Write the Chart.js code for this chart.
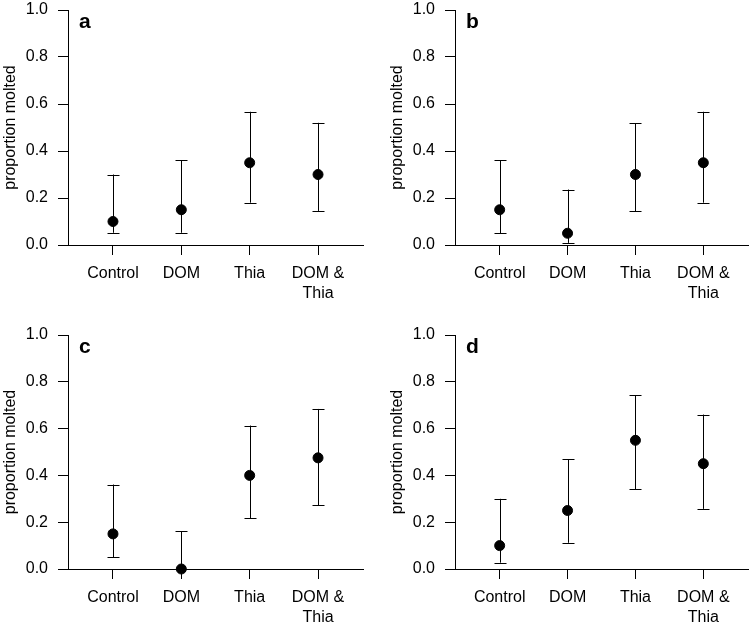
<!DOCTYPE html>
<html>
<head>
<meta charset="utf-8">
<script src="https://cdn.jsdelivr.net/npm/chart.js@4"></script>
<style>
  body { margin: 0; background: #fff; }
  #wrap { position: relative; width: 751px; height: 631px; overflow: hidden; }
  .panel { position: absolute; }
</style>
</head>
<body>
<div id="wrap">
  <div class="panel" style="left:0px;top:0px"><canvas id="pa" width="375" height="325"></canvas></div>
  <div class="panel" style="left:387px;top:0px"><canvas id="pb" width="364" height="325"></canvas></div>
  <div class="panel" style="left:0px;top:325px"><canvas id="pc" width="375" height="306"></canvas></div>
  <div class="panel" style="left:387px;top:325px"><canvas id="pd" width="364" height="306"></canvas></div>
</div>
<script>
// categorias e rótulos
const categories = ['Control', 'DOM', 'Thia', 'DOM & Thia'];
const xTickLabels = [['Control'], ['DOM'], ['Thia'], ['DOM &', 'Thia']];
const yTicks = [0, 0.2, 0.4, 0.6, 0.8, 1.0];
const yTitle = 'proportion molted';

// painel a
const meanA = [0.10, 0.15, 0.35, 0.30];
const lowA  = [0.052, 0.052, 0.18, 0.145];
const highA = [0.30, 0.36, 0.567, 0.52];

// painel b
const meanB = [0.15, 0.05, 0.30, 0.35];
const lowB  = [0.051, 0.009, 0.144, 0.18];
const highB = [0.36, 0.236, 0.519, 0.567];

// painel c
const meanC = [0.15, 0.0, 0.40, 0.475];
const lowC  = [0.05, 0.0, 0.218, 0.272];
const highC = [0.361, 0.162, 0.613, 0.684];

// painel d
const meanD = [0.10, 0.25, 0.55, 0.45];
const lowD  = [0.027, 0.112, 0.341, 0.257];
const highD = [0.30, 0.468, 0.742, 0.66];

const FONT = "'Liberation Sans', Arial, sans-serif";

// barras de erro + letra do painel
const errorBarsPlugin = {
    id: 'errorBars',
    beforeDatasetsDraw(chart, args, opts) {
        const x = chart.scales.x;
        const y = chart.scales.y;
        const ctx = chart.ctx;
        ctx.save();
        ctx.strokeStyle = '#000';
        ctx.lineWidth = 1;
        opts.low.forEach(function(lo, i) {
            const px = Math.round(x.getPixelForValue(i + 1)) + 0.5;
            const yLo = y.getPixelForValue(lo);
            const yHi = y.getPixelForValue(opts.high[i]);
            ctx.beginPath();
            ctx.moveTo(px, yLo);
            ctx.lineTo(px, yHi);
            ctx.moveTo(px - 6, Math.round(yLo) + 0.5);
            ctx.lineTo(px + 6, Math.round(yLo) + 0.5);
            ctx.moveTo(px - 6, Math.round(yHi) + 0.5);
            ctx.lineTo(px + 6, Math.round(yHi) + 0.5);
            ctx.stroke();
        });
        ctx.restore();
    },
    afterDraw(chart, args, opts) {
        const ctx = chart.ctx;
        ctx.save();
        ctx.fillStyle = '#000';
        ctx.font = 'bold 21px ' + FONT;
        ctx.textBaseline = 'alphabetic';
        ctx.fillText(opts.letter, chart.chartArea.left + 11, chart.chartArea.top + 18);
        ctx.restore();
    }
};

function desenharPainel(id, letter, means, lows, highs, padRight, xHeight) {
    const ctx = document.getElementById(id).getContext('2d');
    return new Chart(ctx, {
        type: 'scatter',
        data: {
            datasets: [{
                data: means.map((v, i) => ({ x: i + 1, y: v })),
                backgroundColor: '#000',
                borderColor: '#000',
                pointRadius: 5,
                pointHoverRadius: 5,
                clip: false
            }]
        },
        options: {
            responsive: false,
            animation: false,
            devicePixelRatio: 1,
            layout: { autoPadding: false, padding: { top: 10, right: padRight, left: 0, bottom: 0 } },
            plugins: {
                legend: { display: false },
                tooltip: { enabled: false },
                errorBars: { low: lows, high: highs, letter: letter }
            },
            scales: {
                x: {
                    type: 'linear',
                    min: 0.342,
                    max: 4.658,
                    afterBuildTicks(scale) {
                        scale.ticks = categories.map((c, i) => ({ value: i + 1 }));
                    },
                    afterFit(scale) {
                        scale.height = xHeight;
                        scale.paddingLeft = 0;
                        scale.paddingRight = 0;
                    },
                    border: { display: true, color: '#000', width: 1 },
                    grid: { display: true, drawOnChartArea: false, drawTicks: true, tickLength: 10, color: '#000' },
                    ticks: {
                        color: '#000',
                        padding: 9,
                        maxRotation: 0,
                        autoSkip: false,
                        font: { family: FONT, size: 16, lineHeight: 1.25 },
                        callback: function(value) { return xTickLabels[value - 1]; }
                    }
                },
                y: {
                    min: 0,
                    max: 1,
                    afterBuildTicks(scale) {
                        scale.ticks = yTicks.map(v => ({ value: v }));
                    },
                    afterFit(scale) {
                        scale.width = 68;
                        scale.paddingTop = 0;
                        scale.paddingBottom = 0;
                    },
                    border: { display: true, color: '#000', width: 1 },
                    grid: { display: true, drawOnChartArea: false, drawTicks: true, tickLength: 10, color: '#000' },
                    ticks: {
                        color: '#000',
                        padding: 10,
                        font: { family: FONT, size: 16 },
                        callback: function(value) { return value.toFixed(1); }
                    },
                    title: {
                        display: true,
                        text: yTitle,
                        color: '#000',
                        padding: { top: 1, bottom: 0 },
                        font: { family: FONT, size: 16 }
                    }
                }
            }
        },
        plugins: [errorBarsPlugin]
    });
}

desenharPainel('pa', 'a', meanA, lowA, highA, 12, 80);
desenharPainel('pb', 'b', meanB, lowB, highB, 3, 80);
desenharPainel('pc', 'c', meanC, lowC, highC, 12, 62);
desenharPainel('pd', 'd', meanD, lowD, highD, 3, 62);
</script>
</body>
</html>
